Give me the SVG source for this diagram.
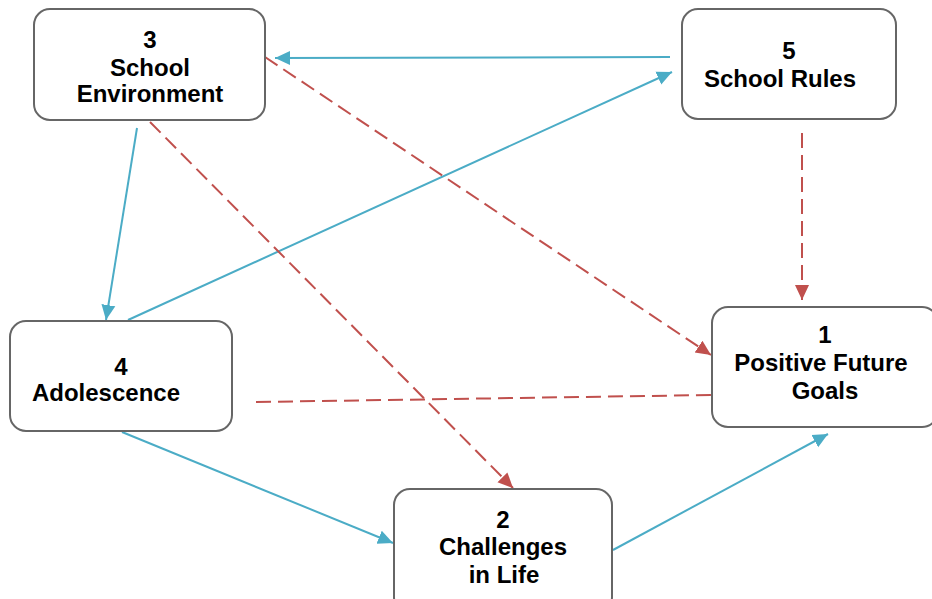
<svg xmlns="http://www.w3.org/2000/svg" width="932" height="599" viewBox="0 0 932 599">
  <style>
    .box { fill: #ffffff; stroke: #666666; stroke-width: 2; }
    .lbl { font-family: "Liberation Sans", Arial, sans-serif; font-weight: bold; font-size: 24px; fill: #000000; text-anchor: middle; }
    .pos { fill: none; stroke: #4BACC6; stroke-width: 2; }
    .neg { fill: none; stroke: #C0504D; stroke-width: 2; stroke-dasharray: 15 7; }
  </style>
  <defs>
    <marker id="arrowBlue" markerUnits="userSpaceOnUse" markerWidth="16" markerHeight="16" viewBox="0 0 16 16" refX="15" refY="8" orient="auto">
      <path d="M0,1 L15,8 L0,15 Z" fill="#4BACC6"/>
    </marker>
    <marker id="arrowRed" markerUnits="userSpaceOnUse" markerWidth="16" markerHeight="16" viewBox="0 0 16 16" refX="15" refY="8" orient="auto">
      <path d="M0,1 L15,8 L0,15 Z" fill="#C0504D"/>
    </marker>
  </defs>
  <rect width="932" height="599" fill="#ffffff"/>

  <g id="connectors">
    <line class="pos" x1="670" y1="57" x2="275" y2="58" marker-end="url(#arrowBlue)"/>
    <line class="pos" x1="137" y1="128" x2="106" y2="320" marker-end="url(#arrowBlue)"/>
    <line class="pos" x1="128" y1="320" x2="672" y2="72" marker-end="url(#arrowBlue)"/>
    <line class="pos" x1="122" y1="432" x2="393" y2="543" marker-end="url(#arrowBlue)"/>
    <line class="pos" x1="613" y1="550" x2="828" y2="434" marker-end="url(#arrowBlue)"/>
    <line class="neg" x1="265" y1="57" x2="711" y2="355" marker-end="url(#arrowRed)"/>
    <line class="neg" x1="150" y1="122" x2="513" y2="488" marker-end="url(#arrowRed)"/>
    <line class="neg" x1="802" y1="133" x2="802" y2="300" marker-end="url(#arrowRed)"/>
    <line class="neg" x1="256" y1="402" x2="711" y2="395"/>
  </g>

  <g id="node3">
    <rect class="box" x="34" y="9" width="231" height="111" rx="16"/>
    <text class="lbl" x="150" y="48">3</text>
    <text class="lbl" x="150" y="76">School</text>
    <text class="lbl" x="150" y="102">Environment</text>
  </g>

  <g id="node5">
    <rect class="box" x="682" y="9" width="214" height="110" rx="16"/>
    <text class="lbl" x="789" y="59">5</text>
    <text class="lbl" x="780" y="87">School Rules</text>
  </g>

  <g id="node1">
    <rect class="box" x="712" y="307" width="226" height="120" rx="16"/>
    <text class="lbl" x="825" y="343">1</text>
    <text class="lbl" x="821" y="371">Positive Future</text>
    <text class="lbl" x="825" y="399">Goals</text>
  </g>

  <g id="node4">
    <rect class="box" x="10" y="321" width="222" height="110" rx="16"/>
    <text class="lbl" x="121" y="375">4</text>
    <text class="lbl" x="106" y="401">Adolescence</text>
  </g>

  <g id="node2">
    <rect class="box" x="394" y="489" width="218" height="124" rx="16"/>
    <text class="lbl" x="503" y="528">2</text>
    <text class="lbl" x="503" y="555">Challenges</text>
    <text class="lbl" x="504" y="583">in Life</text>
  </g>
</svg>
